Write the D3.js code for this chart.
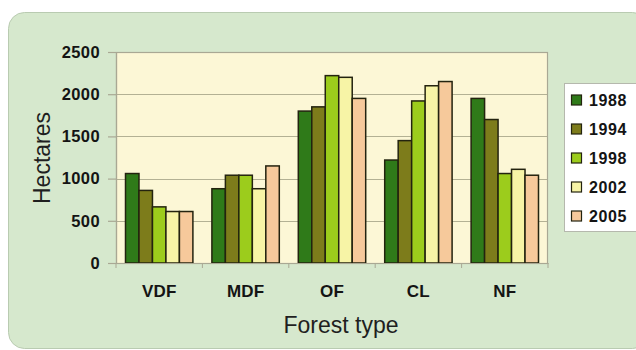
<!DOCTYPE html>
<html>
<head>
<meta charset="utf-8">
<script src="https://cdn.jsdelivr.net/npm/d3@7"></script>
<style>
  html, body { margin: 0; padding: 0; background: #ffffff; }
  svg { display: block; font-family: "Liberation Sans", Arial, Helvetica, sans-serif; }
</style>
</head>
<body>
<svg id="chart" width="636" height="350"></svg>
<script>
// Forest area by type and survey year (hectares)
const forestTypes = ["VDF", "MDF", "OF", "CL", "NF"];
const years = ["1988", "1994", "1998", "2002", "2005"];
const area1988 = [1060, 880, 1800, 1220, 1950];
const area1994 = [860, 1040, 1850, 1450, 1700];
const area1998 = [665, 1040, 2220, 1920, 1060];
const area2002 = [610, 880, 2200, 2100, 1110];
const area2005 = [610, 1150, 1950, 2150, 1040];
const yTicks = [0, 500, 1000, 1500, 2000, 2500];
const yearColors = ["#2f7a19", "#7d7c1b", "#9ccc1c", "#f7f4a6", "#f6c99b"];

const seriesByYear = [area1988, area1994, area1998, area2002, area2005];
const FONT = "'Liberation Sans', Arial, Helvetica, sans-serif";

const svg = d3.select("#chart");

// Panel background
svg.append("rect")
  .attr("x", 8.5).attr("y", 12.5)
  .attr("width", 640).attr("height", 336)
  .attr("rx", 16).attr("ry", 16)
  .attr("fill", "#d6e8cd")
  .attr("stroke", "#b9cbb1")
  .attr("stroke-width", 1);

const plot = { left: 116, right: 548, top: 52, bottom: 263 };

const x0 = d3.scaleBand()
  .domain(forestTypes)
  .range([plot.left, plot.right])
  .paddingInner(0.22)
  .paddingOuter(0.11);

const x1 = d3.scaleBand()
  .domain(years)
  .range([0, x0.bandwidth()]);

const y = d3.scaleLinear()
  .domain([0, 2500])
  .range([plot.bottom, plot.top]);

// Plot area
svg.append("rect")
  .attr("x", plot.left).attr("y", plot.top)
  .attr("width", plot.right - plot.left)
  .attr("height", plot.bottom - plot.top)
  .attr("fill", "#fcf7d6");

// Gridlines
svg.append("g")
  .selectAll("line")
  .data(yTicks.filter(t => t > 0))
  .join("line")
  .attr("x1", plot.left).attr("x2", plot.right)
  .attr("y1", d => Math.round(y(d)) + 0.5)
  .attr("y2", d => Math.round(y(d)) + 0.5)
  .attr("stroke", "#b3b194")
  .attr("stroke-width", 1.2);

// Plot frame
svg.append("rect")
  .attr("x", plot.left + 0.5).attr("y", plot.top + 0.5)
  .attr("width", plot.right - plot.left - 1)
  .attr("height", plot.bottom - plot.top)
  .attr("fill", "none")
  .attr("stroke", "#a9a894")
  .attr("stroke-width", 1.2);

// Bars
const groups = svg.append("g")
  .selectAll("g")
  .data(forestTypes)
  .join("g")
  .attr("transform", d => `translate(${x0(d)},0)`);

groups.selectAll("rect")
  .data((d, i) => years.map((yr, j) => ({ year: yr, value: seriesByYear[j][i], idx: j })))
  .join("rect")
  .attr("x", d => x1(d.year))
  .attr("y", d => y(d.value))
  .attr("width", x1.bandwidth())
  .attr("height", d => y(0) - y(d.value))
  .attr("fill", d => yearColors[d.idx])
  .attr("stroke", "#23230f")
  .attr("stroke-width", 1.5);

// Y axis
const yAxis = d3.axisLeft(y)
  .tickValues(yTicks)
  .tickSize(8)
  .tickPadding(8)
  .tickFormat(d3.format("d"));

const yG = svg.append("g")
  .attr("transform", `translate(${plot.left},0)`)
  .call(yAxis);
yG.select(".domain").attr("stroke", "#a9a894").attr("stroke-width", 1.2);
yG.selectAll(".tick line").attr("stroke", "#a9a894").attr("stroke-width", 1.2);
yG.selectAll(".tick text")
  .attr("fill", "#141414")
  .attr("font-size", 16.5)
  .attr("font-weight", "bold")
  .attr("letter-spacing", "0.4px")
  .attr("font-family", FONT);

// X axis
const xAxis = d3.axisBottom(x0).tickSize(0).tickPadding(22);
const xG = svg.append("g")
  .attr("transform", `translate(0,${plot.bottom})`)
  .call(xAxis);
xG.select(".domain").attr("stroke", "#a9a894").attr("stroke-width", 1.2);
xG.selectAll(".tick text")
  .attr("fill", "#141414")
  .attr("font-size", 17)
  .attr("font-weight", "bold")
  .attr("letter-spacing", "0.2px")
  .attr("font-family", FONT);

// Small separator ticks between categories
const sepPositions = forestTypes.map(d => x0(d) - x0.step() * x0.paddingInner() / 2)
  .concat([plot.right]);
svg.append("g")
  .selectAll("line")
  .data(sepPositions)
  .join("line")
  .attr("x1", d => d).attr("x2", d => d)
  .attr("y1", plot.bottom).attr("y2", plot.bottom + 5)
  .attr("stroke", "#a9a894")
  .attr("stroke-width", 1);

// Axis titles
svg.append("text")
  .attr("transform", "translate(50,158) rotate(-90)")
  .attr("text-anchor", "middle")
  .attr("font-size", 23)
  .attr("font-family", FONT)
  .attr("fill", "#1f1f1f")
  .text("Hectares");

svg.append("text")
  .attr("x", 341).attr("y", 333)
  .attr("text-anchor", "middle")
  .attr("font-size", 23)
  .attr("font-family", FONT)
  .attr("fill", "#1f1f1f")
  .text("Forest type");

// Legend
const legend = svg.append("g");
legend.append("rect")
  .attr("x", 564.5).attr("y", 83.5)
  .attr("width", 90).attr("height", 148)
  .attr("fill", "#ffffff")
  .attr("stroke", "#b5b8ad")
  .attr("stroke-width", 1);

const legendItems = legend.selectAll("g.item")
  .data(years)
  .join("g")
  .attr("class", "item")
  .attr("transform", (d, i) => `translate(571,${100 + i * 29})`);

legendItems.append("rect")
  .attr("x", 0.5).attr("y", -5)
  .attr("width", 10).attr("height", 10)
  .attr("fill", (d, i) => yearColors[i])
  .attr("stroke", "#23230f")
  .attr("stroke-width", 1.2);

legendItems.append("text")
  .attr("x", 18).attr("y", 0)
  .attr("dy", "0.36em")
  .attr("font-size", 16)
  .attr("font-weight", "bold")
  .attr("letter-spacing", "0.6px")
  .attr("font-family", FONT)
  .attr("fill", "#141414")
  .text(d => d);
</script>
</body>
</html>
